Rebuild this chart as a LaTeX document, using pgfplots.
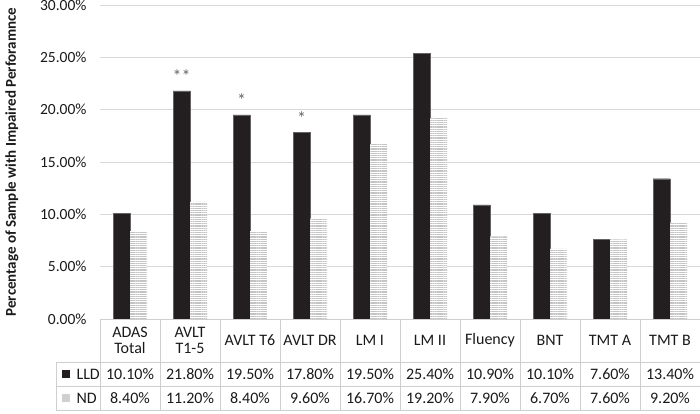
\documentclass[border=0pt]{standalone}
\usepackage{fontspec}
\setmainfont{Carlito}
\usepackage{pgfplots}
\usepackage{pgfplotstable}
\pgfplotsset{compat=1.18}
\usetikzlibrary{patterns.meta}
\definecolor{lld}{HTML}{231F20}
\definecolor{ndc}{HTML}{C4C4C4}
\definecolor{gridc}{HTML}{DADADA}
\definecolor{tbl}{HTML}{CFCFCF}
\definecolor{txt}{HTML}{1A1A1A}

\pgfplotstableread{
x lld nd
0 10.1 8.4
1 21.8 11.2
2 19.5 8.4
3 17.8 9.6
4 19.5 16.7
5 25.4 19.2
6 10.9 7.9
7 10.1 6.7
8 7.6 7.6
9 13.4 9.2
}\data

\begin{document}
\begin{tikzpicture}
\path[use as bounding box] (-100pt,-94pt) rectangle (600pt,319pt);
\begin{axis}[
  at={(0pt,0pt)}, anchor=south west,
  scale only axis, width=600pt, height=314pt,
  xmin=-0.5, xmax=9.5, ymin=0, ymax=30,
  ybar=0pt, bar width=17pt,
  axis line style={draw=none},
  xtick=\empty,
  ytick={0,5,...,30},
  major tick length=0pt,
  ymajorgrids, grid style={gridc, line width=0.9pt},
  /pgf/number format/assume math mode=true,
  yticklabel={\pgfmathprintnumber[fixed,fixed zerofill,precision=2]{\tick}\%},
  yticklabel style={font=\fontsize{15.5}{17}\selectfont, text=txt, xshift=-10pt},
  ylabel={Percentage of Sample with Impaired Perforamnce},
  ylabel style={at={(axis description cs:-0.1467,0.5)}, anchor=center, font=\bfseries\fontsize{15}{17}\selectfont, text=txt},
  clip=false,
]
\addplot[fill=lld, draw=lld!70] table[x=x,y=lld]{\data};
\addplot[draw=none, fill=white, postaction={pattern={Lines[angle=0,distance=2.2pt,line width=1.1pt]}, pattern color=ndc}] table[x=x,y=nd]{\data};
\node[text=black!60, font=\fontsize{18}{18}\selectfont] at (axis cs:1,21.8) [xshift=-8.5pt, yshift=15pt] {**};
\node[text=black!60, font=\fontsize{18}{18}\selectfont] at (axis cs:2,19.5) [xshift=-8.5pt, yshift=15pt] {*};
\node[text=black!60, font=\fontsize{18}{18}\selectfont] at (axis cs:3,17.8) [xshift=-8.5pt, yshift=15pt] {*};
\end{axis}
% data table
\begin{scope}[tbl, line width=0.9pt]
\draw (0pt,0pt) -- (600pt,0pt);
\draw (-44pt,-43pt) -- (600pt,-43pt);
\draw (-44pt,-67.5pt) -- (600pt,-67.5pt);
\draw (-44pt,-91pt) -- (600pt,-91pt);
\draw (-44pt,-43pt) -- (-44pt,-91pt);
\foreach \k in {0,...,10} { \draw (60pt*\k,0pt) -- (60pt*\k,-91pt); }
\end{scope}
\begin{scope}[every node/.style={font=\fontsize{16}{17}\selectfont, text=txt, align=center}]
\node at (30pt,-21.5pt) {ADAS\\[-1pt]Total};
\node at (90pt,-21.5pt) {AVLT\\[-1pt]T1-5};
\node at (150pt,-21.5pt) {AVLT T6};
\node at (210pt,-21.5pt) {AVLT DR};
\node at (270pt,-21.5pt) {LM I};
\node at (330pt,-21.5pt) {LM II};
\node at (390pt,-21.5pt) {Fluency};
\node at (450pt,-21.5pt) {BNT};
\node at (510pt,-21.5pt) {TMT A};
\node at (570pt,-21.5pt) {TMT B};
\foreach \v [count=\i from 0] in {10.10\%,21.80\%,19.50\%,17.80\%,19.50\%,25.40\%,10.90\%,10.10\%,7.60\%,13.40\%}
  { \node at (60pt*\i+30pt,-55.3pt) {\v}; }
\foreach \v [count=\i from 0] in {8.40\%,11.20\%,8.40\%,9.60\%,16.70\%,19.20\%,7.90\%,6.70\%,7.60\%,9.20\%}
  { \node at (60pt*\i+30pt,-79.3pt) {\v}; }
\node[anchor=west] at (-27pt,-55.3pt) {LLD};
\node[anchor=west] at (-27pt,-79.3pt) {ND};
\end{scope}
\fill[lld] (-38pt,-59pt) rectangle (-30pt,-51pt);
\fill[ndc!80] (-38pt,-83pt) rectangle (-30pt,-75pt);
\end{tikzpicture}
\end{document}
